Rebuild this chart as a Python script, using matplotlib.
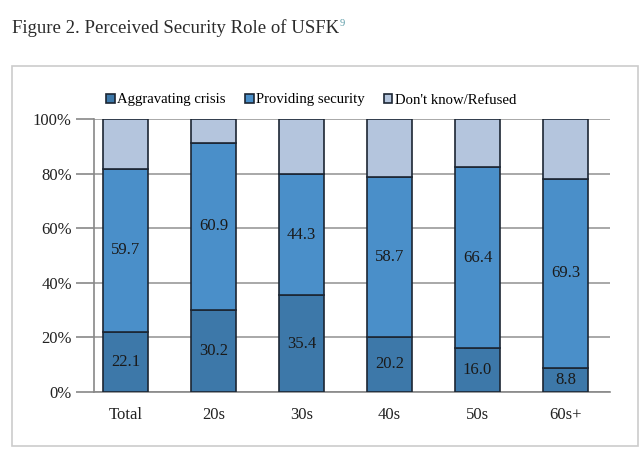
import matplotlib.pyplot as plt
import matplotlib.patches as mpatches
from matplotlib.ticker import PercentFormatter
import numpy as np

groups = ['Total', '20s', '30s', '40s', '50s', '60s+']
aggravating = [22.1, 30.2, 35.4, 20.2, 16.0, 8.8]
providing = [59.7, 60.9, 44.3, 58.7, 66.4, 69.3]
dont_know = [100 - a - p for a, p in zip(aggravating, providing)]

c_agg = '#3d78a9'
c_prov = '#4a8fc9'
c_dk = '#b4c5dd'
edge = '#1c2633'
serif = 'Liberation Serif'

fig = plt.figure(figsize=(6.4, 4.51), dpi=100)

# outer frame around the chart
fig.patches.append(mpatches.Rectangle((12 / 640, 1 - 446 / 451), 626 / 640, 380 / 451,
                                      transform=fig.transFigure, fill=False,
                                      edgecolor='#cccccc', linewidth=1.2))

title = fig.text(12 / 640, 1 - 28 / 451, 'Figure 2. Perceived Security Role of USFK',
                 fontsize=13.5, family=serif, color='#2b2b2b', va='center')
fig.canvas.draw()
tb = title.get_window_extent()
fig.text((tb.x1 + 1) / 640, 1 - 23 / 451, '9', fontsize=7.5, family=serif,
         color='#5a9aa6', va='center')

ax = fig.add_axes([94 / 640, 1 - 392 / 451, 516 / 640, 273 / 451])
x = np.arange(len(groups))
w = 0.51
b1 = ax.bar(x, aggravating, w, color=c_agg, edgecolor=edge, linewidth=1.2, zorder=3,
            label='Aggravating crisis')
b2 = ax.bar(x, providing, w, bottom=aggravating, color=c_prov, edgecolor=edge,
            linewidth=1.2, zorder=3, label='Providing security')
b3 = ax.bar(x, dont_know, w, bottom=np.add(aggravating, providing), color=c_dk,
            edgecolor=edge, linewidth=1.2, zorder=3, label="Don't know/Refused")

for i in range(len(groups)):
    ax.text(x[i], aggravating[i] / 2, f'{aggravating[i]:.1f}', ha='center', va='center',
            fontsize=12, family=serif, color='#1a1a1a', zorder=4)
    ax.text(x[i], aggravating[i] + providing[i] / 2, f'{providing[i]:.1f}', ha='center',
            va='center', fontsize=12, family=serif, color='#1a1a1a', zorder=4)

ax.set_xlim(-0.358, 5.506)
ax.set_ylim(0, 100)
ax.set_yticks(range(0, 101, 20))
ax.yaxis.set_major_formatter(PercentFormatter(decimals=0))
ax.yaxis.grid(True, color='#9a9a9a', linewidth=1.2, zorder=0)
ax.set_xticks(x)
ax.set_xticklabels(groups)
for lab in ax.get_xticklabels() + ax.get_yticklabels():
    lab.set_family(serif)
    lab.set_fontsize(12)
    lab.set_color('#222222')
ax.tick_params(axis='x', length=0, pad=11)
ax.tick_params(axis='y', length=13, width=1.2, color='#888888', pad=3)
for s in ['top', 'right']:
    ax.spines[s].set_visible(False)
for s in ['left', 'bottom']:
    ax.spines[s].set_color('#888888')
    ax.spines[s].set_linewidth(1.2)

fig.legend(handles=[b1, b2, b3], loc='center', bbox_to_anchor=(311 / 640, 1 - 100 / 451),
           ncol=3, frameon=False, prop={'family': serif, 'size': 10.6},
           handlelength=0.6, handleheight=0.6, handletextpad=0.15, columnspacing=1.3)

fig.savefig('out.png', dpi=100)
